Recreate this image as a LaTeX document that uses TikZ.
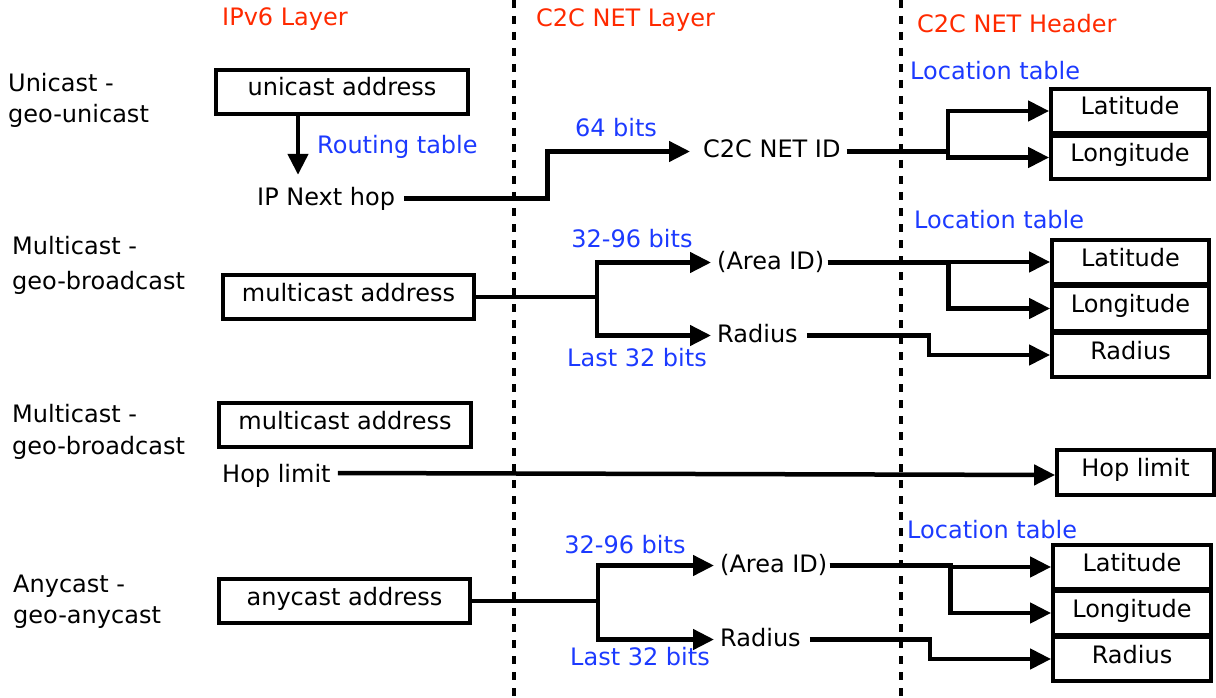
\documentclass[tikz,border=0pt]{standalone}
\usepackage{fontspec}
\setmainfont{DejaVu Sans}
\usetikzlibrary{arrows.meta}
\definecolor{hdrred}{RGB}{255,42,0}
\definecolor{lblblue}{RGB}{28,58,255}
\newcommand{\fsz}{\fontsize{24}{29}\selectfont}
\begin{document}
\begin{tikzpicture}[x=1pt,y=-1pt,
  txt/.style={inner sep=0pt, anchor=base west, font=\fsz, text height=18pt, text depth=5pt},
  hdr/.style={txt, text=hdrred},
  lbl/.style={txt, text=lblblue},
  lblc/.style={lbl, anchor=base},
  bx/.style={draw, line width=3.8pt, inner sep=0pt, font=\fsz, text height=16pt, text depth=8pt, minimum height=44pt},
  addr/.style={bx, minimum width=252pt},
  fld/.style={bx, minimum width=158pt},
  conn/.style={line width=4.5pt, -{Triangle[length=21pt,width=20pt]}},
  divider/.style={line width=3.5pt, dash pattern=on 8pt off 8pt}]
\useasboundingbox (0,0) rectangle (1216,698);

% dividers
\coordinate (d1t) at (514,0); \coordinate (d1b) at (514,698);
\coordinate (d2t) at (901,0); \coordinate (d2b) at (901,698);
\draw[divider] (d1t) -- (d1b);
\draw[divider] (d2t) -- (d2b);

% headers
\node[hdr] (h1) at (222,26) {IPv6 Layer};
\node[hdr] (h2) at (536,27) {C2C NET Layer};
\node[hdr] (h3) at (917,33) {C2C NET Header};

% ---------- row 1 ----------
\node[txt] (r1a) at (8,92) {Unicast -};
\node[txt] (r1b) at (8,123) {geo-unicast};
\node[addr] (uaddr) at (342,92) {unicast address};
\node[lbl] (rtab) at (317,154) {Routing table};
\node[txt] (ipnh) at (257,205) {IP Next hop};
\node[lblc] (b64) at (616,137) {64 bits};
\node[txt] (netid) at (703,158) {C2C NET ID};
\node[lbl] (loc1) at (910,80) {Location table};
\node[fld] (lat1) at (1130,111) {Latitude};
\node[fld, minimum height=43pt] (lon1) at (1130,157.5) {Longitude};

\coordinate (rt) at ([xshift=-44pt]uaddr.south);
\draw[conn, shorten >=12pt] (rt) -- (rt |- ipnh.north);
\draw[conn, shorten >=13pt] ([xshift=9pt]ipnh.east) -- ++(143,0) |- (netid.west);
\draw[conn] ([xshift=6pt]netid.east) -- ++(101,0) |- (lat1.west);
\draw[conn] ([xshift=6pt]netid.east) -- ++(101,0) |- (lon1.west);

% ---------- row 2 ----------
\node[txt] (r2a) at (12,254) {Multicast -};
\node[txt] (r2b) at (12,289) {geo-broadcast};
\node[addr, minimum width=251pt] (maddr1) at (348.5,297) {multicast address};
\node[lblc] (b3296a) at (632,247) {32-96 bits};
\node[lblc] (l32a) at (637,366) {Last 32 bits};
\node[txt] (area1) at (717,269) {(Area ID)};
\node[txt] (radt1) at (717,342) {Radius};
\node[lbl] (loc2) at (914,229) {Location table};
\node[fld, minimum width=157pt] (lat2) at (1130.5,262) {Latitude};
\node[fld, minimum width=157pt] (lon2) at (1130.5,308.5) {Longitude};
\node[fld, minimum width=157pt] (rad2) at (1130.5,355) {Radius};

\draw[conn, shorten >=6pt] (maddr1.east) -- ++(121,0) |- (area1.west);
\draw[conn, shorten >=6pt] (maddr1.east) -- ++(121,0) |- (radt1.west);
\draw[conn] ([xshift=3pt]area1.east) -- ++(121,0) |- (lat2.west);
\draw[conn] ([xshift=3pt]area1.east) -- ++(121,0) |- (lon2.west);
\draw[conn] ([xshift=9pt]radt1.east) -- ++(122,0) |- (rad2.west);

% ---------- row 3 ----------
\node[txt] (r3a) at (12,422) {Multicast -};
\node[txt] (r3b) at (12,454) {geo-broadcast};
\node[addr] (maddr2) at (345,425) {multicast address};
\node[txt] (hopl) at (222,482) {Hop limit};
\node[fld, minimum width=157pt, minimum height=45pt] (hopb) at (1135.5,472.5) {Hop limit};
\draw[conn] ([xshift=7pt,yshift=2.5pt]hopl.east) -- ([yshift=-2.5pt]hopb.west);

% ---------- row 4 ----------
\node[txt] (r4a) at (13,592) {Anycast -};
\node[txt] (r4b) at (13,623) {geo-anycast};
\node[addr, minimum width=251pt] (aaddr) at (344.5,601) {anycast address};
\node[lblc] (b3296b) at (625,553) {32-96 bits};
\node[lblc] (l32b) at (640,665) {Last 32 bits};
\node[txt] (area2) at (720,572) {(Area ID)};
\node[txt] (radt2) at (720,646) {Radius};
\node[lbl] (loc3) at (907,538) {Location table};
\node[fld] (lat3) at (1132,567) {Latitude};
\node[fld] (lon3) at (1132,613) {Longitude};
\node[fld] (rad3) at (1132,659) {Radius};

\draw[conn, shorten >=6pt] (aaddr.east) -- ++(126,0) |- (area2.west);
\draw[conn, shorten >=6pt] (aaddr.east) -- ++(126,0) |- (radt2.west);
\draw[conn] ([xshift=2pt]area2.east) -- ++(121,0) |- (lat3.west);
\draw[conn] ([xshift=2pt]area2.east) -- ++(121,0) |- (lon3.west);
\draw[conn] ([xshift=9pt]radt2.east) -- ++(120,0) |- (rad3.west);
\end{tikzpicture}
\end{document}
